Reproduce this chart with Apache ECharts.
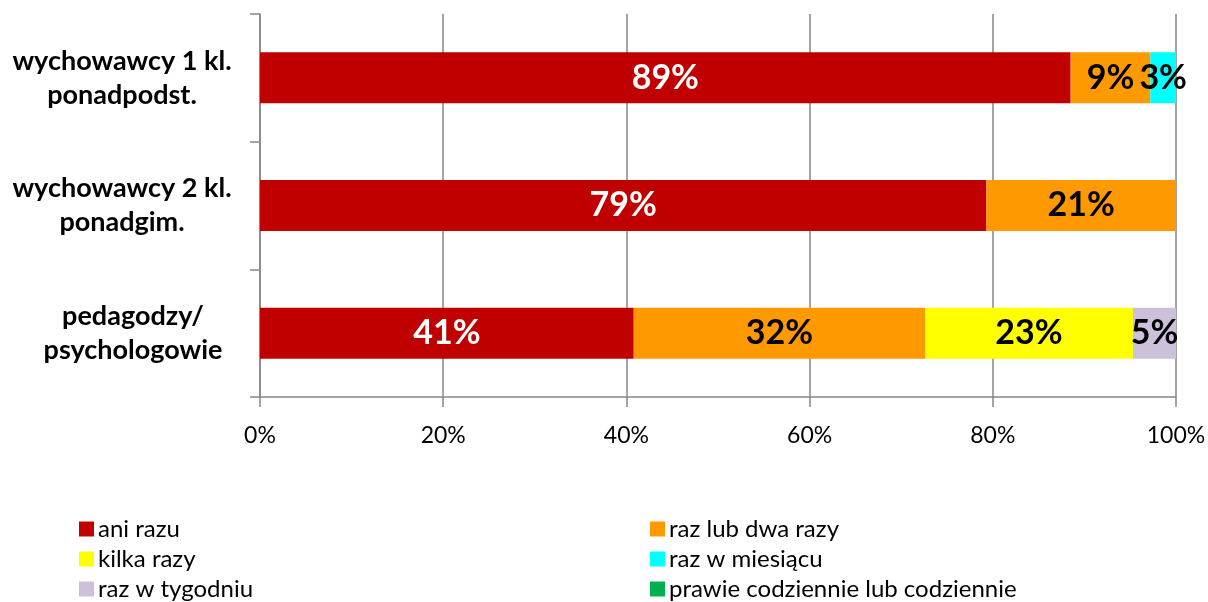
<!DOCTYPE html>
<html>
<head>
<meta charset="utf-8">
<script src="https://cdn.jsdelivr.net/npm/echarts@6/dist/echarts.min.js"></script>
<style>
html,body{margin:0;padding:0;background:#fff;}
#chart{width:1208px;height:602px;}
</style>
</head>
<body>
<div id="chart"></div>
<script>
const categories = ['wychowawcy 1 kl.\nponadpodst.', 'wychowawcy 2 kl.\nponadgim.', 'pedagodzy/\npsychologowie'];
const seriesNames = ['ani razu', 'raz lub dwa razy', 'kilka razy', 'raz w miesiącu', 'raz w tygodniu', 'prawie codziennie lub codziennie'];
const aniRazu = [88.5, 79.3, 40.8];
const razLubDwa = [8.7, 20.7, 31.8];
const kilkaRazy = [0, 0, 22.7];
const razWMiesiacu = [2.8, 0, 0];
const razWTygodniu = [0, 0, 4.7];
const prawieCodziennie = [0, 0, 0];
const xTicks = [0, 20, 40, 60, 80, 100];

const colors = ['#C00000', '#FF9900', '#FFFF00', '#00FFFF', '#CCC0DA', '#00B050'];
const labelColors = ['#FFFFFF', '#000000', '#000000', '#000000', '#000000', '#000000'];
const allData = [aniRazu, razLubDwa, kilkaRazy, razWMiesiacu, razWTygodniu, prawieCodziennie];
const FONT = 'Lato';

const chart = echarts.init(document.getElementById('chart'), null, {renderer: 'canvas'});
const series = seriesNames.map((name, i) => ({
  name: name,
  type: 'bar',
  stack: 'total',
  barWidth: 51,
  itemStyle: {color: colors[i]},
  label: {
    show: true,
    position: 'inside',
    fontFamily: FONT,
    fontWeight: 'bold',
    fontSize: 34,
    color: labelColors[i],
    formatter: p => p.value > 0 ? Math.round(p.value) + '%' : ''
  },
  emphasis: {disabled: true},
  data: allData[i]
}));

const catLabelStyle = {fontFamily: FONT, fontSize: 27, fontWeight: 'bold', color: '#000', align: 'center', lineHeight: 34};
const catData = categories.map((c, i) => i === 2
  ? {value: c, textStyle: Object.assign({}, catLabelStyle, {padding: [0, 0, 0, 22]})}
  : c);

const legendCommon = {
  orient: 'vertical', top: 517, itemWidth: 15, itemHeight: 15, itemGap: 6, padding: 0,
  icon: 'rect', selectedMode: false,
  textStyle: {fontFamily: FONT, fontSize: 24, lineHeight: 22, color: '#000', padding: [0, 0, 0, -1]}
};

chart.setOption({
  animation: false,
  textStyle: {fontFamily: FONT},
  grid: {left: 260, right: 32, top: 14, bottom: 205, containLabel: false, outerBoundsMode: 'none'},
  xAxis: {
    type: 'value',
    min: xTicks[0],
    max: xTicks[xTicks.length - 1],
    interval: 20,
    axisLine: {show: true, lineStyle: {color: '#868686', width: 1.5}},
    axisTick: {show: true, length: 10, lineStyle: {color: '#868686', width: 1.5}},
    splitLine: {show: true, lineStyle: {color: '#868686', width: 1.5}},
    axisLabel: {fontFamily: FONT, fontSize: 23, color: '#000', margin: 27, formatter: '{value}%'}
  },
  yAxis: {
    type: 'category',
    inverse: true,
    data: catData,
    axisLine: {show: true, lineStyle: {color: '#868686', width: 1.5}},
    axisTick: {show: true, length: 10, lineStyle: {color: '#868686', width: 1.5}},
    axisLabel: Object.assign({margin: 138}, catLabelStyle)
  },
  legend: [
    Object.assign({left: 79, data: [seriesNames[0], seriesNames[2], seriesNames[4]]}, legendCommon),
    Object.assign({left: 650, data: [seriesNames[1], seriesNames[3], seriesNames[5]]}, legendCommon)
  ],
  series: series
});
</script>
</body>
</html>
